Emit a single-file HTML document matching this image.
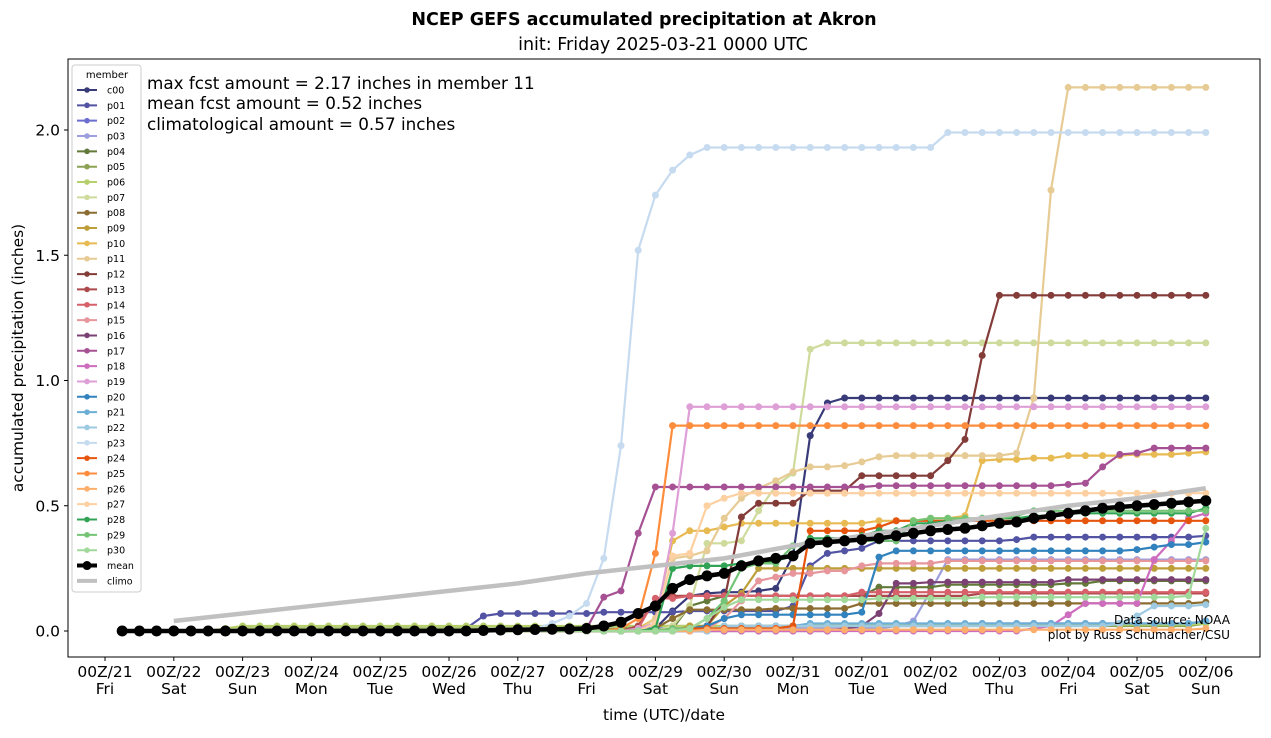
<!DOCTYPE html>
<html><head><meta charset="utf-8"><style>
body{margin:0;background:#fff;font-family:"Liberation Sans","DejaVu Sans",sans-serif}
svg text{font-family:"DejaVu Sans","Liberation Sans",sans-serif}
</style></head><body>
<svg id="chart" width="1271" height="733" xmlns="http://www.w3.org/2000/svg">
<rect x="0" y="0" width="1271" height="733" fill="#fff"/>
<text x="644" y="25" text-anchor="middle" font-size="17.5" font-weight="bold">NCEP GEFS accumulated precipitation at Akron</text>
<text x="663" y="50" text-anchor="middle" font-size="17.5">init: Friday 2025-03-21 0000 UTC</text>
<g id="plot"></g>
<rect x="68" y="59" width="1192" height="598" fill="none" stroke="#000" stroke-width="1"/>
<text x="147" y="89" font-size="16.8">max fcst amount = 2.17 inches in member 11</text>
<text x="147" y="109" font-size="16.8">mean fcst amount = 0.52 inches</text>
<text x="147" y="130" font-size="16.8">climatological amount = 0.57 inches</text>
<text x="1230" y="624" text-anchor="end" font-size="12.1">Data source: NOAA</text>
<text x="1230" y="639" text-anchor="end" font-size="12.1">plot by Russ Schumacher/CSU</text>
<text x="664" y="720" text-anchor="middle" font-size="15.4">time (UTC)/date</text>
<text transform="translate(23,358) rotate(-90)" text-anchor="middle" font-size="15.4">accumulated precipitation (inches)</text>
<g id="legend"></g>
</svg>
<script>
const memberNames=["c00","p01","p02","p03","p04","p05","p06","p07","p08","p09","p10","p11","p12","p13","p14","p15","p16","p17","p18","p19","p20","p21","p22","p23","p24","p25","p26","p27","p28","p29","p30"];
const memberColors=["#393b79","#5254a3","#6b6ecf","#9c9ede","#637939","#8ca252","#b5cf6b","#cedb9c","#8c6d31","#bd9e39","#e7ba52","#e7cb94","#843c39","#ad494a","#d6616b","#e7969c","#7b4173","#a55194","#ce6dbd","#de9ed6","#3182bd","#6baed6","#9ecae1","#c6dbef","#e6550d","#fd8d3c","#fdae6b","#fdd0a2","#31a354","#74c476","#a1d99b"];
// breakpoint values per member: {index: value}, value held until next breakpoint (index = 6-hour step, 0 = 06Z/21)
const c00={30:0.01,32:0.08,33:0.14,34:0.15,35:0.155,37:0.16,38:0.17,39:0.30,40:0.78,41:0.91,42:0.93};
const p01={20:0.01,21:0.06,22:0.07,28:0.075,33:0.08,39:0.10,40:0.26,41:0.31,42:0.32,43:0.33,44:0.36,52:0.365,53:0.375,63:0.38};
const p02={30:0.01,36:0.02,50:0.03,63:0.04};
const p03={36:0.01,45:0.02,46:0.04,47:0.16,48:0.285};
const p04={32:0.01,33:0.10,34:0.12,35:0.14,44:0.175,48:0.185,55:0.19,57:0.20};
const p05={7:0.01,30:0.02,63:0.03};
const p06={6:0.01,7:0.02,40:0.025,63:0.03};
const p07={32:0.02,33:0.10,34:0.35,36:0.36,37:0.48,38:0.58,39:0.63,40:1.125,41:1.15};
const p08={31:0.01,32:0.05,33:0.085,38:0.09,43:0.11,63:0.115};
const p09={33:0.02,35:0.10,36:0.15,37:0.25};
const p10={30:0.01,31:0.05,32:0.36,33:0.40,35:0.415,36:0.43,44:0.44,47:0.45,49:0.46,50:0.68,51:0.685,53:0.69,55:0.70,59:0.705,62:0.71,63:0.715};
const p11={31:0.05,32:0.29,33:0.30,34:0.32,35:0.45,36:0.53,37:0.57,38:0.60,39:0.635,40:0.655,42:0.66,43:0.675,44:0.695,45:0.70,52:0.71,53:0.93,54:1.76,55:2.17};
const p12={34:0.02,35:0.12,36:0.455,37:0.51,40:0.56,43:0.62,48:0.68,49:0.765,50:1.10,51:1.34};
const p13={30:0.02,31:0.13,32:0.14,50:0.15};
const p14={30:0.01,31:0.13,33:0.14,43:0.155};
const p15={34:0.01,35:0.05,36:0.12,37:0.20,38:0.215,39:0.23,41:0.24,43:0.26,44:0.27,48:0.28};
const p16={42:0.01,43:0.02,44:0.07,45:0.19,47:0.195,55:0.205};
const p17={27:0.01,28:0.135,29:0.16,30:0.39,31:0.575,44:0.58,55:0.585,56:0.59,57:0.655,58:0.705,59:0.71,60:0.73};
const p18={53:0.01,54:0.02,55:0.065,56:0.11,60:0.285,61:0.36,62:0.45,63:0.47};
const p19={30:0.01,31:0.03,32:0.39,33:0.895};
const p20={33:0.01,34:0.02,35:0.05,36:0.065,43:0.075,44:0.295,45:0.32,59:0.325,60:0.335,61:0.345,63:0.355};
const p21={35:0.02,40:0.03,63:0.04};
const p22={35:0.02,58:0.03,59:0.06,60:0.10,63:0.105};
const p23={24:0.01,25:0.03,26:0.06,27:0.11,28:0.29,29:0.74,30:1.52,31:1.74,32:1.84,33:1.90,34:1.93,48:1.99};
const p24={32:0.01,39:0.02,40:0.40,44:0.415,45:0.44};
const p25={29:0.01,30:0.05,31:0.31,32:0.82};
const p26={34:0.005,63:0.01};
const p27={31:0.03,32:0.30,33:0.31,34:0.50,35:0.53,36:0.55};
const p28={31:0.01,32:0.25,33:0.26,36:0.27,38:0.28,39:0.30,40:0.37,43:0.38,44:0.40,46:0.43,48:0.44,50:0.45,53:0.46,55:0.47,63:0.49};
const p29={32:0.01,34:0.05,35:0.12,36:0.25,37:0.27,39:0.34,40:0.36,46:0.44,47:0.45,52:0.46,53:0.48};
const p30={33:0.01,34:0.05,35:0.095,36:0.125,44:0.13,50:0.135,62:0.14,63:0.41};
const memberData=[c00,p01,p02,p03,p04,p05,p06,p07,p08,p09,p10,p11,p12,p13,p14,p15,p16,p17,p18,p19,p20,p21,p22,p23,p24,p25,p26,p27,p28,p29,p30];
const meanValues=[0,0,0,0,0,0,0,0,0,0,0,0,0,0,0,0,0,0,0,0,0,0.002,0.004,0.005,0.006,0.007,0.008,0.01,0.02,0.035,0.07,0.10,0.17,0.205,0.22,0.23,0.26,0.28,0.29,0.30,0.35,0.355,0.36,0.365,0.37,0.38,0.39,0.40,0.405,0.41,0.42,0.43,0.435,0.45,0.46,0.47,0.48,0.49,0.495,0.50,0.505,0.51,0.515,0.52];
const climoIdx=[3,7,11,15,19,23,27,31,35,39,43,47,51,55,59,63];
const climoValues=[0.04,0.07,0.10,0.13,0.16,0.19,0.23,0.26,0.29,0.34,0.38,0.42,0.46,0.50,0.53,0.57];
const xTickDates=["00Z/21","00Z/22","00Z/23","00Z/24","00Z/25","00Z/26","00Z/27","00Z/28","00Z/29","00Z/30","00Z/31","00Z/01","00Z/02","00Z/03","00Z/04","00Z/05","00Z/06"];
const xTickDays=["Fri","Sat","Sun","Mon","Tue","Wed","Thu","Fri","Sat","Sun","Mon","Tue","Wed","Thu","Fri","Sat","Sun"];
const yTicks=[0.0,0.5,1.0,1.5,2.0];
const NPTS=64;

const NS="http://www.w3.org/2000/svg";
function xIdx(i){return 105+(i+1)*17.2;}
function xDay(d){return 105+d*68.8;}
function yV(v){return 631-v*250.5;}
function mk(tag,attrs,parent){const e=document.createElementNS(NS,tag);for(const k in attrs)e.setAttribute(k,attrs[k]);parent.appendChild(e);return e;}
function expand(bp){const out=[];let cur=0;for(let i=0;i<NPTS;i++){if(bp[i]!==undefined)cur=bp[i];out.push(cur);}return out;}
const svg=document.getElementById('chart');
const plot=document.getElementById('plot');
xTickDates.forEach((t,d)=>{
  const x=xDay(d);
  const tk=mk('line',{x1:x,x2:x,y1:657,y2:661,stroke:'#000'},svg);
  
  
  const tx=mk('text',{x:x,y:677,'text-anchor':'middle','font-size':'15.5'},svg);
  
  
  tx.textContent=t;
  const ty=mk('text',{x:x,y:694,'text-anchor':'middle','font-size':'15.5'},svg);
  
  
  ty.textContent=xTickDays[d];
});
yTicks.forEach(v=>{
  const y=yV(v);
  const tk=mk('line',{x1:64,x2:68,y1:y,y2:y,stroke:'#000'},svg);
  
  
  const tx=mk('text',{x:60,y:y+5.5,'text-anchor':'end','font-size':'15.5'},svg);
  
  
  tx.textContent=v.toFixed(1);
});
memberData.forEach((bp,m)=>{
  const vals=expand(bp);
  const g=mk('g',{},plot);
  
  
  const pts=vals.map((v,i)=>xIdx(i).toFixed(1)+','+yV(v).toFixed(1)).join(' ');
  mk('polyline',{points:pts,fill:'none',stroke:memberColors[m],'stroke-width':2.2},g);
  vals.forEach((v,i)=>{
    const c=mk('circle',{cx:xIdx(i),cy:yV(v),r:3.5,fill:memberColors[m]},g);
    
    
  });
});
const cg=mk('g',{},plot);


mk('polyline',{points:climoIdx.map((ix,k)=>xIdx(ix)+','+yV(climoValues[k])).join(' '),fill:'none',stroke:'#c0c0c0','stroke-width':4.5},cg);
const mg=mk('g',{},plot);


mk('polyline',{points:meanValues.map((v,i)=>xIdx(i)+','+yV(v)).join(' '),fill:'none',stroke:'#000','stroke-width':4.5},mg);
meanValues.forEach((v,i)=>{
  const c=mk('circle',{cx:xIdx(i),cy:yV(v),r:5.5,fill:'#000'},mg);
  
  
});
const lg=document.getElementById('legend');
mk('rect',{x:72,y:65,width:69,height:527,fill:'#fff','fill-opacity':0.8,stroke:'#ccc',rx:3},lg);
const lt=mk('text',{x:107,y:78,'text-anchor':'middle','font-size':'10'},lg);


lt.textContent='member';
const legNames=memberNames.concat(['mean','climo']);
const legColors=memberColors.concat(['#000','#c0c0c0']);
legNames.forEach((n,k)=>{
  const y=90+k*15.34;
  const e=mk('g',{},lg);
  
  
  const isMean=n==='mean',isClimo=n==='climo';
  mk('line',{x1:77,x2:97,y1:y,y2:y,stroke:legColors[k],'stroke-width':(isMean||isClimo)?4:2},e);
  if(!isClimo)mk('circle',{cx:87,cy:y,r:isMean?4.5:2.8,fill:legColors[k]},e);
  const t=mk('text',{x:107,y:y+3.5,'font-size':'9.5'},e);
  t.textContent=n;
});
</script>
</body></html>
